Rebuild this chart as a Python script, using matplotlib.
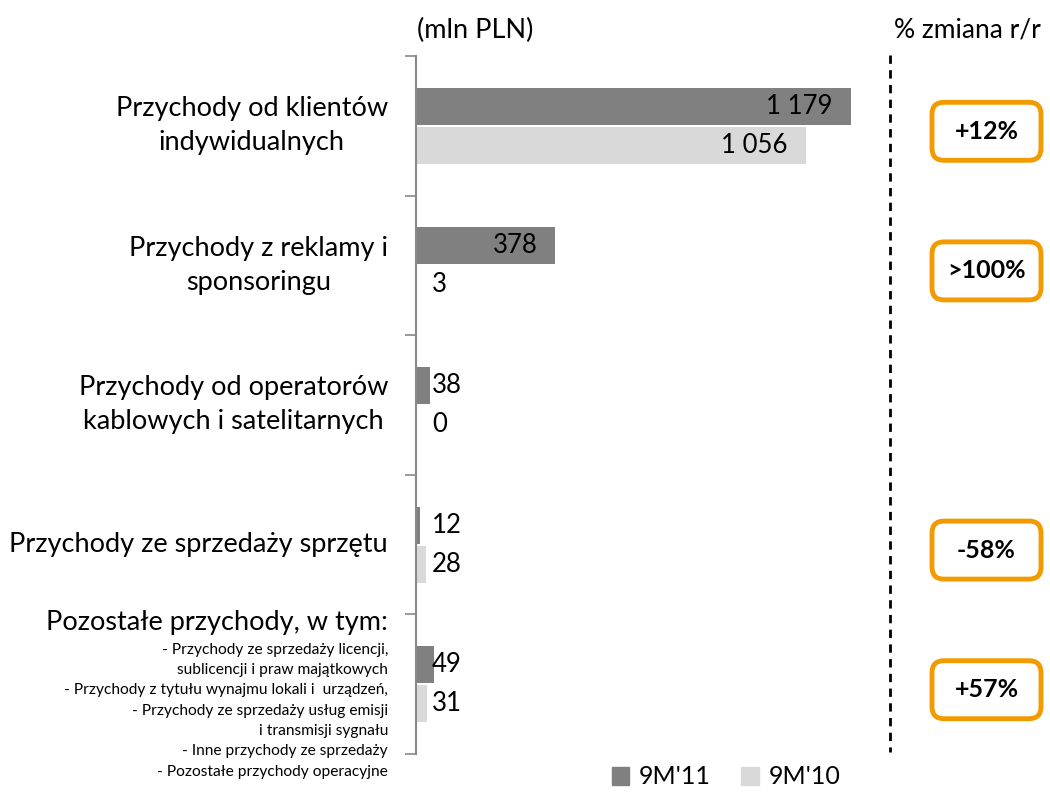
import matplotlib.pyplot as plt
import matplotlib.transforms as mtransforms
from matplotlib.patches import FancyBboxPatch, Patch
from matplotlib.lines import Line2D

# data
categories = ['Przychody od klientów\nindywidualnych',
              'Przychody z reklamy i\nsponsoringu',
              'Przychody od operatorów\nkablowych i satelitarnych',
              'Przychody ze sprzedaży sprzętu',
              'Pozostałe przychody, w tym:']
other_items = ['- Przychody ze sprzedaży licencji,',
               'sublicencji i praw majątkowych',
               '- Przychody z tytułu wynajmu lokali i  urządzeń,',
               '- Przychody ze sprzedaży usług emisji',
               'i transmisji sygnału',
               '- Inne przychody ze sprzedaży',
               '- Pozostałe przychody operacyjne']
vals_11 = [1179, 378, 38, 12, 49]
vals_10 = [1056, 3, 0, 28, 31]
changes = ['+12%', '>100%', '', '-58%', '+57%']
series_names = ["9M'11", "9M'10"]

DARK = '#808080'
LIGHT = '#d9d9d9'
ORANGE = '#f39a00'
plt.rcParams['font.family'] = ['Lato', 'DejaVu Sans']

fig = plt.figure(figsize=(10.5, 8), dpi=100)
ax = fig.add_axes([416 / 1050, 1 - 754 / 800, 474 / 1050, 698 / 800])

h = 0.265
off = 0.14
pos = list(range(len(categories)))
ax.barh([p - off for p in pos], vals_11, height=h, color=DARK)
ax.barh([p + off for p in pos], vals_10, height=h, color=LIGHT)


def fmt(v):
    return f'{v:,}'.replace(',', ' ')


for vals, sign in ((vals_11, -1), (vals_10, 1)):
    for p, v in zip(pos, vals):
        y = p + sign * off
        if v > 200:
            ax.annotate(fmt(v), (v, y), xytext=(-13, 0), textcoords='offset points',
                        ha='right', va='center', fontsize=18.5)
        else:
            ax.annotate(fmt(v), (0, y), xytext=(11.5, 0), textcoords='offset points',
                        ha='left', va='center', fontsize=18.5)

ax.set_xlim(0, 1285)
ax.set_ylim(len(categories) - 0.5, -0.5)
ax.set_xticks([])
ax.set_yticks([p - 0.5 for p in range(len(categories) + 1)])
ax.set_yticklabels([])
ax.tick_params(axis='y', length=8, width=1.2, color='#888888')
for s in ['top', 'right', 'bottom']:
    ax.spines[s].set_visible(False)
ax.spines['left'].set_color('#888888')
ax.spines['left'].set_linewidth(1.5)

# category labels
lab_tr = mtransforms.blended_transform_factory(fig.transFigure, ax.transData)
for p, c in zip(pos[:-1], categories[:-1]):
    ax.text(388 / 1050, p, c, transform=lab_tr, ha='right', va='center',
            multialignment='center', fontsize=19.5, linespacing=1.45)
ax.text(388 / 1050, pos[-1] - 0.445, categories[-1], transform=lab_tr,
        ha='right', va='center', fontsize=19.5)
ax.text(388 / 1050, pos[-1] + 0.19, '\n'.join(other_items), transform=lab_tr,
        ha='right', va='center', multialignment='right', fontsize=11.2, linespacing=1.57)

# headers
fig.text(475 / 1050, 1 - 30 / 800, '(mln PLN)', ha='center', va='center', fontsize=19.5)
fig.text(967 / 1050, 1 - 30 / 800, '% zmiana r/r', ha='center', va='center', fontsize=19)

# dashed separator
fig.add_artist(Line2D([890 / 1050, 890 / 1050], [1 - 55 / 800, 1 - 752 / 800],
                      color='black', lw=2, ls=(0, (3, 2.3))))

# change boxes
ident = mtransforms.IdentityTransform()
for p, ch in zip(pos, changes):
    if not ch:
        continue
    yc = ax.transData.transform((0, p))[1] - 5.5
    box = FancyBboxPatch((932, yc - 29), 109, 58, boxstyle='round,pad=0,rounding_size=12',
                         fc='white', ec=ORANGE, lw=3.5, transform=ident)
    fig.add_artist(box)
    fig.text(986.5 / 1050, yc / 800, ch, ha='center', va='center', fontsize=18,
             fontweight='bold')

# legend
handles = [Patch(color=DARK), Patch(color=LIGHT)]
fig.legend(handles, series_names, loc='center', bbox_to_anchor=(726 / 1050, 1 - 777 / 800),
           ncol=2, frameon=False, fontsize=18, handlelength=0.7, handleheight=0.7,
           handletextpad=0.4, columnspacing=1.2)

fig.savefig('out.png', dpi=100)
